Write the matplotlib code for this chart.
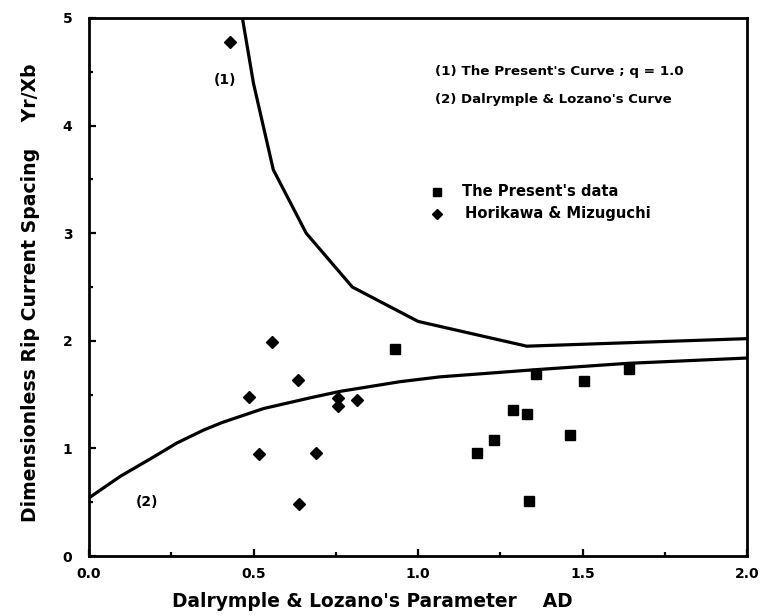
import matplotlib
matplotlib.use("Agg")
import matplotlib.pyplot as plt
from matplotlib.ticker import MultipleLocator

plt.rcParams['font.family'] = ['DejaVu Sans']
plt.rcParams['font.weight'] = 'bold'

# curve (1): the present's curve, q = 1.0
curve1_ad = [0.465, 0.50, 0.56, 0.66, 0.80, 1.00, 1.33, 2.00]
curve1_y = [5.02, 4.39, 3.59, 3.00, 2.50, 2.18, 1.95, 2.02]

# curve (2): Dalrymple & Lozano's curve
curve2_ad = [0.0, 0.095, 0.196, 0.267, 0.348, 0.404, 0.53, 0.672, 0.763, 0.945, 1.067, 1.35, 1.634, 2.0]
curve2_y = [0.54, 0.74, 0.92, 1.05, 1.17, 1.24, 1.37, 1.47, 1.53, 1.62, 1.665, 1.73, 1.79, 1.84]

# the present's data (squares)
present_ad = [0.93, 1.357, 1.504, 1.642, 1.288, 1.33, 1.232, 1.178, 1.462, 1.337]
present_y = [1.92, 1.69, 1.63, 1.74, 1.36, 1.32, 1.08, 0.96, 1.12, 0.51]

# Horikawa & Mizuguchi (diamonds)
horikawa_ad = [0.427, 0.556, 0.636, 0.485, 0.758, 0.758, 0.814, 0.518, 0.69, 0.638]
horikawa_y = [4.78, 1.99, 1.64, 1.475, 1.47, 1.39, 1.45, 0.95, 0.96, 0.48]

x_ticks = [0.0, 0.5, 1.0, 1.5, 2.0]
x_ticklabels = ['0.0', '0.5', '1.0', '1.5', '2.0']
y_ticks = [0, 1, 2, 3, 4, 5]

fig = plt.figure(figsize=(7.63, 6.16), dpi=100)
ax = fig.add_axes([0.1166, 0.0974, 0.8628, 0.8734])

ax.plot(curve1_ad, curve1_y, color='black', lw=2.3, solid_joinstyle='round')
ax.plot(curve2_ad, curve2_y, color='black', lw=2.3, solid_joinstyle='round')
ax.plot(present_ad, present_y, 's', color='black', ms=6.5)
ax.plot(horikawa_ad, horikawa_y, 'D', color='black', ms=5.8)

ax.set_xlim(0, 2.0)
ax.set_ylim(0, 5)
ax.set_xticks(x_ticks)
ax.set_xticklabels(x_ticklabels)
ax.set_yticks(y_ticks)
ax.xaxis.set_minor_locator(MultipleLocator(0.25))
ax.yaxis.set_minor_locator(MultipleLocator(0.5))
ax.tick_params(which='both', direction='in', top=False, right=False, width=1.6)
ax.tick_params(which='major', length=5, labelsize=10)
ax.tick_params(axis='x', which='major', pad=8)
ax.tick_params(axis='y', which='major', pad=12)
ax.tick_params(which='minor', length=3)
for s in ax.spines.values():
    s.set_linewidth(2.0)

# curve labels
ax.text(0.414, 4.42, '(1)', ha='center', va='center', fontsize=10, fontweight='bold')
ax.text(0.176, 0.505, '(2)', ha='center', va='center', fontsize=10, fontweight='bold')

# hand-drawn legend block
ax.text(1.052, 4.50, "(1) The Present's Curve ; q = 1.0", ha='left', va='center', fontsize=9.7, fontweight='bold')
ax.text(1.052, 4.24, "(2) Dalrymple & Lozano's Curve", ha='left', va='center', fontsize=9.5, fontweight='bold')
ax.plot([1.056], [3.386], 's', color='black', ms=5.5)
ax.text(1.134, 3.39, "The Present's data", ha='left', va='center', fontsize=10.6, fontweight='bold')
ax.plot([1.056], [3.18], 'D', color='black', ms=5)
ax.text(1.143, 3.18, "Horikawa & Mizuguchi", ha='left', va='center', fontsize=10.6, fontweight='bold')

ax.set_xlabel("Dalrymple & Lozano's Parameter    AD", fontsize=13.4, fontweight='bold')
ax.xaxis.set_label_coords(0.43, -0.066)
ax.set_ylabel("Dimensionless Rip Current Spacing    Yr/Xb", fontsize=13.6, fontweight='bold')
ax.yaxis.set_label_coords(-0.074, 0.49)

fig.savefig('out.png', dpi=100)
